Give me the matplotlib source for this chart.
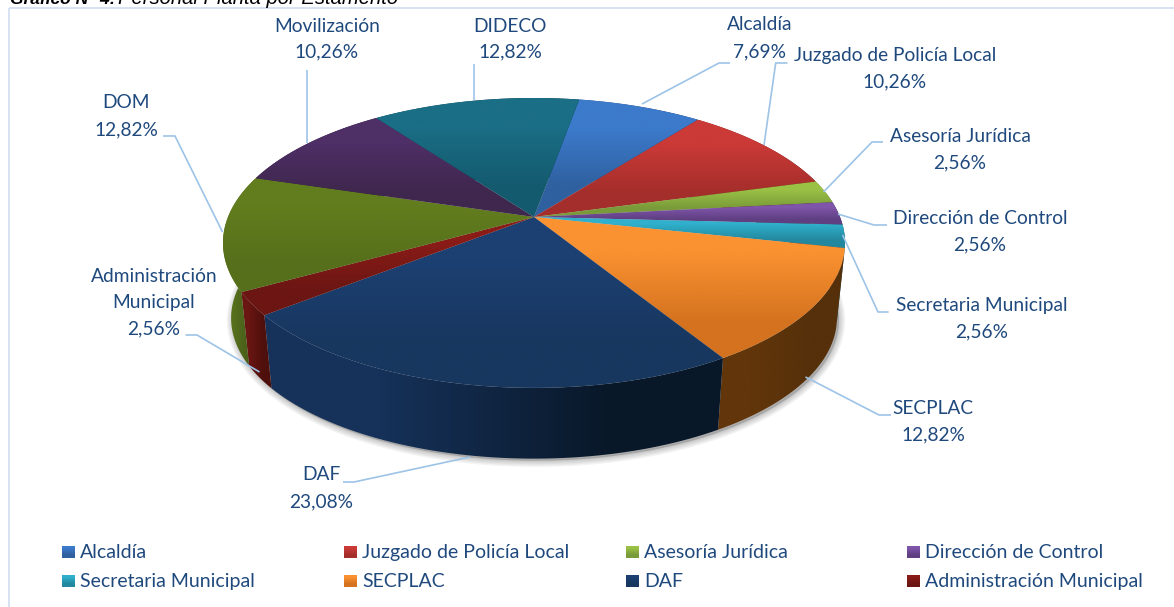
import numpy as np
import matplotlib
matplotlib.use("Agg")
import matplotlib.pyplot as plt
from matplotlib.patches import Polygon, Rectangle
from matplotlib.colors import to_rgb

categories = ["Alcaldía", "Juzgado de Policía Local", "Asesoría Jurídica", "Dirección de Control",
              "Secretaria Municipal", "SECPLAC", "DAF", "Administración Municipal",
              "DOM", "Movilización", "DIDECO"]
values = [7.69, 10.26, 2.56, 2.56, 2.56, 12.82, 23.08, 2.56, 12.82, 10.26, 12.82]
legend_names = categories[:8]
label_texts = ["Alcaldía\n7,69%", "Juzgado de Policía Local\n10,26%", "Asesoría Jurídica\n2,56%",
               "Dirección de Control\n2,56%", "Secretaria Municipal\n2,56%", "SECPLAC\n12,82%",
               "DAF\n23,08%", "Administración\nMunicipal\n2,56%", "DOM\n12,82%",
               "Movilización\n10,26%", "DIDECO\n12,82%"]
top_light = ["#3c7acb", "#cb3a37", "#9ac044", "#7f55a9", "#30b0cc", "#fb9231", "#1c4072", "#8a1c18", "#627d1e", "#4e2f66", "#1a6e85"]
top_dark = ["#2f609f", "#a42e2b", "#7a9b3a", "#5f3f82", "#23889f", "#d4721f", "#18375f", "#6c1613", "#566f1b", "#3f274e", "#145a6e"]
side_light = ["#254a7a", "#7a2220", "#5e7a28", "#4a3064", "#1c6a7c", "#62360a", "#16325a", "#6a1612", "#56701c", "#38204a", "#104858"]
side_dark = ["#1b3860", "#5a1a18", "#48601e", "#38244c", "#145060", "#55300a", "#091829", "#4e100c", "#44581a", "#2a1838", "#0c3644"]

TXT = "#1f497d"
LEAD = "#9dc3e6"
plt.rcParams["font.family"] = ["Lato", "DejaVu Sans"]

fig = plt.figure(figsize=(11.74, 6.07), dpi=100)
ax = fig.add_axes([0, 0, 1, 1])
ax.set_axis_off()

# pie geometry (perspective projection of a disc)
CX, CY, B, A, K = 534.0, 217.0, 306.0, 140.3, 0.179
CY2, B2, A2 = 293.0, 298.0, 136.0
START = 10.0

def rim(theta, cy, b, a):
    t = np.radians(theta)
    u, v = np.sin(t), -np.cos(t)
    w = 1 - K * v
    return np.column_stack([CX + b * u / w, cy + a * v / w])

def grad_fill(poly, c1, c2, horizontal=False, zorder=3):
    x0, y0 = poly.min(axis=0)
    x1, y1 = poly.max(axis=0)
    arr = np.array([to_rgb(c1), to_rgb(c2)])
    arr = arr[None, :, :] if horizontal else arr[:, None, :]
    im = ax.imshow(arr, extent=[x0, x1, y1, y0], aspect="auto", interpolation="bilinear",
                   origin="upper", zorder=zorder)
    patch = Polygon(poly, closed=True, transform=ax.transData, fc="none", ec="none")
    ax.add_patch(patch)
    im.set_clip_path(patch)

shares = np.array(values) / np.sum(values) * 360.0
edges = START + np.concatenate([[0], np.cumsum(shares)])

# soft shadow under the pie
full = rim(np.linspace(0, 360, 361), CY2, B2, A2) + np.array([2, 2])
for lw in [9, 7, 5, 3, 1.5]:
    ax.add_patch(Polygon(full, closed=True, fc="#555555", ec="#555555", lw=lw, alpha=0.07, zorder=1))

# sides, then top surfaces
for i in range(len(values)):
    th = np.linspace(edges[i], edges[i + 1], 60)
    side = np.vstack([rim(th, CY, B, A), rim(th[::-1], CY2, B2, A2)])
    grad_fill(side, side_light[i], side_dark[i], horizontal=True, zorder=2)
for i in range(len(values)):
    th = np.linspace(edges[i], edges[i + 1], 60)
    top = np.vstack([[CX, CY], rim(th, CY, B, A)])
    grad_fill(top, top_light[i], top_dark[i], zorder=3)

# leader lines
leaders = [
    [(730, 63), (719, 63), (642, 104)],
    [(787.5, 63), (775.7, 63), (764, 145)],
    [(883, 142), (872, 142), (823.5, 192)],
    [(887, 225), (874, 225), (838, 214)],
    [(888.6, 312), (878, 312), (842.6, 235)],
    [(891, 415), (879, 415), (805.5, 377)],
    [(343, 482), (354, 482), (470, 457)],
    [(185.6, 335), (197, 335), (259.5, 372)],
    [(163, 136), (175, 136), (222.5, 232)],
    [(306.5, 70), (306.5, 143)],
    [(474, 64), (474, 100)],
]
for pts in leaders:
    p = np.array(pts)
    ax.plot(p[:, 0], p[:, 1], color=LEAD, lw=1.2, zorder=4, solid_capstyle="butt")

# data labels: centre x, first line y, last line y
label_pos = [(760, 25, 52), (895, 55, 82), (960, 136, 163), (980, 218, 245), (982, 305, 332),
             (933, 408, 435), (321, 474, 502), (154, 276, 329), (126, 103, 130), (327, 26, 52), (510, 26, 52)]
FS = 13.8
for txt, (x, y0, y1) in zip(label_texts, label_pos):
    lines = txt.split("\n")
    for ln, y in zip(lines, np.linspace(y0, y1, len(lines))):
        ax.text(x, y, ln, ha="center", va="center", color=TXT, fontsize=FS, zorder=5)

# legend
col_x = [62, 344, 626, 907]
row_y = [552, 581]
for i, name in enumerate(legend_names):
    x, y = col_x[i % 4], row_y[i // 4]
    sw = np.array([[x, y - 6.5], [x + 13, y - 6.5], [x + 13, y + 6.5], [x, y + 6.5]])
    grad_fill(sw, top_light[i], top_dark[i], zorder=5)
    ax.text(x + 18, y + 0.5, name, ha="left", va="center", color=TXT, fontsize=14, zorder=5)

# frame (runs past the right and bottom edges) and clipped title
ax.add_patch(Rectangle((9, 7.5), 1300, 700, fc="none", ec="#d3e1f1", lw=1.3, zorder=0.5))
ax.text(10, 4, "Gráfico N° 4:", ha="left", va="baseline", fontsize=12.5, style="italic", weight="bold",
        family=["Liberation Sans"], color="black", zorder=6)
ax.text(118, 4, "Personal Planta por Estamento", ha="left", va="baseline", fontsize=14.6, style="italic",
        family=["Liberation Sans"], color="black", zorder=6)

ax.set_xlim(0, 1174)
ax.set_ylim(607, 0)
fig.savefig("out.png", dpi=100)
